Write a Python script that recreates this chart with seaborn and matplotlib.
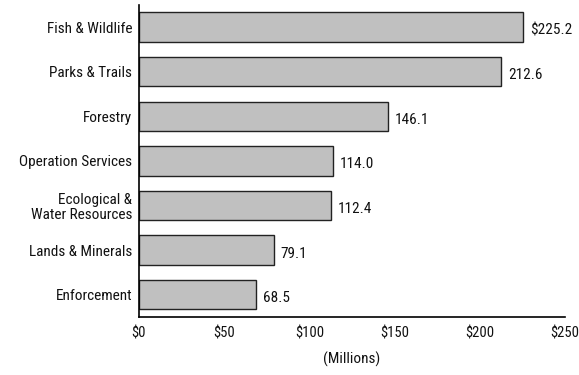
import pandas as pd
import numpy as np
import matplotlib.pyplot as plt
import seaborn as sns

# division budgets ($ millions)
divisions = ['Fish & Wildlife', 'Parks & Trails', 'Forestry', 'Operation Services',
             'Ecological &\nWater Resources', 'Lands & Minerals', 'Enforcement']
amounts = [225.2, 212.6, 146.1, 114.0, 112.4, 79.1, 68.5]
value_labels = ['$225.2', '212.6', '146.1', '114.0', '112.4', '79.1', '68.5']
x_ticks = [0, 50, 100, 150, 200, 250]
x_tick_labels = ['$0', '$50', '$100', '$150', '$200', '$250']

df = pd.DataFrame({'division': divisions, 'amount': amounts})

sns.set_style('white')
plt.rcParams['font.family'] = ['Roboto Condensed', 'Liberation Sans', 'DejaVu Sans']
fs = 11
tick_fs = 10.5

fig = plt.figure(figsize=(5.79, 3.75), dpi=100)
ax = fig.add_axes([0.240, 0.155, 0.736, 0.832])

sns.barplot(data=df, x='amount', y='division', orient='h', color='#c0c0c0',
            edgecolor='#222222', linewidth=1.0, width=0.66, saturation=1, ax=ax)

for i, (v, lab) in enumerate(zip(amounts, value_labels)):
    ax.text(v + 4, i + 0.08, lab, va='center', ha='left', fontsize=fs, color='#111111')

ax.set_xlim(0, 250)
ax.set_ylim(6.5, -0.5)
ax.set_xticks(x_ticks)
ax.set_xticklabels(x_tick_labels, fontsize=tick_fs)
ax.tick_params(axis='x', direction='in', length=4, width=0.6, color='#888888', pad=7,
               labelcolor='#111111')
ax.tick_params(axis='y', length=0, pad=5, labelsize=fs, labelcolor='#111111')
for lab in ax.get_yticklabels():
    lab.set_horizontalalignment('right')
    lab.set_multialignment('right')
    lab.set_linespacing(1.1)
ax.set_xlabel('(Millions)', fontsize=fs, labelpad=8, color='#111111')
ax.set_ylabel('')

sns.despine(ax=ax, top=True, right=True)
for s in ['left', 'bottom']:
    ax.spines[s].set_color('black')
    ax.spines[s].set_linewidth(1.2)

fig.savefig('out.png', dpi=100)
